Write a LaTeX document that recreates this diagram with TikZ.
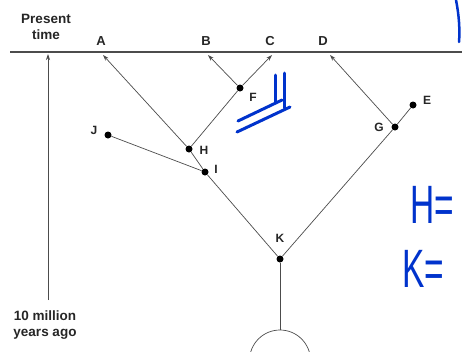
\documentclass[tikz,border=0pt]{standalone}
\usepackage{fontspec}
\setmainfont{Liberation Sans}
\usetikzlibrary{arrows.meta}
\begin{document}
\begin{tikzpicture}[x=1pt,y=-1pt,
  lbl/.style={font=\bfseries\fontsize{13}{14}\selectfont, inner sep=0pt, text=black!85},
  ilbl/.style={font=\bfseries\fontsize{12}{14}\selectfont, inner sep=0pt, text=black!85},
  tlbl/.style={font=\bfseries\fontsize{13.5}{15}\selectfont, inner sep=0pt, text=black!85, align=center},
  dot/.style={circle, fill=black, inner sep=0pt, minimum size=7pt},
  branch/.style={draw=black!70, line width=0.7pt},
  arr/.style={branch, -{Stealth[length=6pt,width=4pt]}},
  pen/.style={draw=blue!75!cyan!80!black, line width=3pt, line cap=round},
  hand/.style={font=\fontsize{54}{54}\selectfont, text=blue!75!cyan!80!black, inner sep=0pt, xscale=0.62}]
\useasboundingbox (0,0) rectangle (462,351);
\fill[white] (0,0) rectangle (462,351);
% time axis
\coordinate (axL) at (10,52);
\coordinate (axR) at (462,52);
\draw[black!70, line width=1.2pt] (axL) -- (axR);
\node[tlbl] (present) at (46,27) {Present\\[1pt]time};
\node[tlbl] (tenmy) at (45,325) {10 million\\[1pt]years ago};
\coordinate (tb) at (48,300);
\coordinate (tt) at (48,54);
\draw[arr] (tb) -- (tt);
% tips
\coordinate (tA) at (103,55);
\coordinate (tB) at (208,55);
\coordinate (tC) at (272,55);
\coordinate (tD) at (330,55);
\node[lbl] (lA) at (101,41) {A};
\node[lbl] (lB) at (206,41) {B};
\node[lbl] (lC) at (270,41) {C};
\node[lbl] (lD) at (323,41) {D};
% internal nodes
\node[dot] (F) at (240,88) {};
\node[dot] (H) at (189,149) {};
\node[dot] (I) at (205,172) {};
\node[dot] (J) at (108,135) {};
\node[dot] (G) at (395,127) {};
\node[dot] (E) at (413,105) {};
\node[dot] (K) at (280,259) {};
\node[ilbl] at (253,97) {F};
\node[ilbl] at (204,150) {H};
\node[ilbl] at (216,169) {I};
\node[ilbl] at (94,130) {J};
\node[ilbl] at (379,127) {G};
\node[ilbl] at (427,100) {E};
\node[ilbl] at (280,238) {K};
% branches
\draw[arr] (H) -- (tA);
\draw[arr] (F) -- (tB);
\draw[arr] (F) -- (tC);
\draw[branch] (H) -- (F);
\draw[branch] (I) -- (H);
\draw[branch] (J) -- (I);
\draw[branch] (I) -- (K);
\draw[branch] (K) -- (G);
\draw[branch] (G) -- (E);
\draw[arr] (G) -- (tD);
\coordinate (kb) at (280,330);
\draw[branch] (K) -- (kb);
\draw[branch] (249.5,360.5) arc[start angle=180, end angle=360, radius=30.5];
% handwriting
\draw[pen] (275,75) -- (275,102);
\draw[pen] (284,73) -- (284,108);
\draw[pen] (238,121) -- (282,100);
\draw[pen] (237,132) -- (290,107);
\draw[pen, line width=2.5pt] (456,0) .. controls (459,15) and (460,30) .. (459,42);
\node[hand, anchor=west] (Heq) at (410,205) {H=};
\node[hand, anchor=west] (Keq) at (402,269) {K=};
\end{tikzpicture}
\end{document}
